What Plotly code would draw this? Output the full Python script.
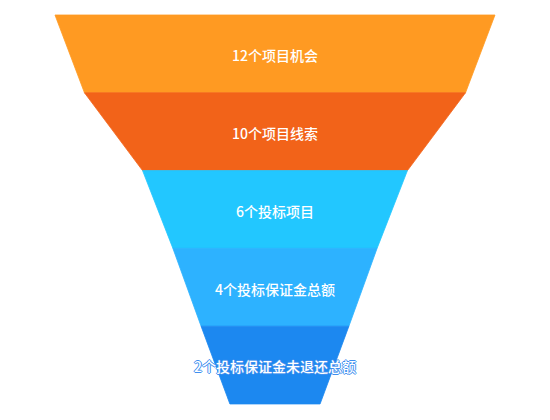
import plotly.graph_objects as go

# funnel stages (top to bottom)
stage_labels = ["12个项目机会", "10个项目线索", "6个投标项目", "4个投标保证金总额", "2个投标保证金未退还总额"]
stage_values = [100, 86.6, 60.2, 46.4, 33.6]   # relative width at top of each stage
end_value = 20.5                                # width at bottom of last stage
stage_colors = ["#FF9A22", "#F26319", "#22C7FF", "#2DB2FF", "#1C88F0"]

fig = go.Figure()

widths = stage_values + [end_value]
for i, label in enumerate(stage_labels):
    top = widths[i] / 2
    bot = widths[i + 1] / 2
    fig.add_trace(go.Scatter(
        x=[-top, top, bot, -bot, -top],
        y=[i, i, i + 1, i + 1, i],
        mode="lines",
        fill="toself",
        fillcolor=stage_colors[i],
        line=dict(width=0.8, color=stage_colors[i]),  # hides the seams between stages
        hoverinfo="text",
        hovertext=label,
        showlegend=False,
    ))

# labels, the last one gets a blue outline since it spills over the edges
outline = "#3f8fef"
for i, label in enumerate(stage_labels):
    last = i == len(stage_labels) - 1
    fig.add_trace(go.Scatter(
        x=[0],
        y=[i + 0.55],  # noto cjk sits a bit high, nudge down
        mode="text",
        text=[label],
        textposition="middle center",
        textfont=dict(
            family="Noto Sans CJK SC", size=14, color="white", weight=500,
            shadow=(f"-1px 0 {outline}, 1px 0 {outline}, 0 -1px {outline}, 0 1px {outline}"
                    if last else "none"),
        ),
        hoverinfo="skip",
        showlegend=False,
    ))

# page has an 8px body margin, ranges are shifted to compensate
fig.update_xaxes(range=[-60.68, 64.32], visible=False, fixedrange=True)
fig.update_yaxes(range=[5.309, -0.09], visible=False, fixedrange=True)
fig.update_layout(
    width=550,
    height=420,
    margin=dict(l=0, r=0, t=0, b=0),
    plot_bgcolor="white",
    paper_bgcolor="white",
)

fig.write_html("out.html")
